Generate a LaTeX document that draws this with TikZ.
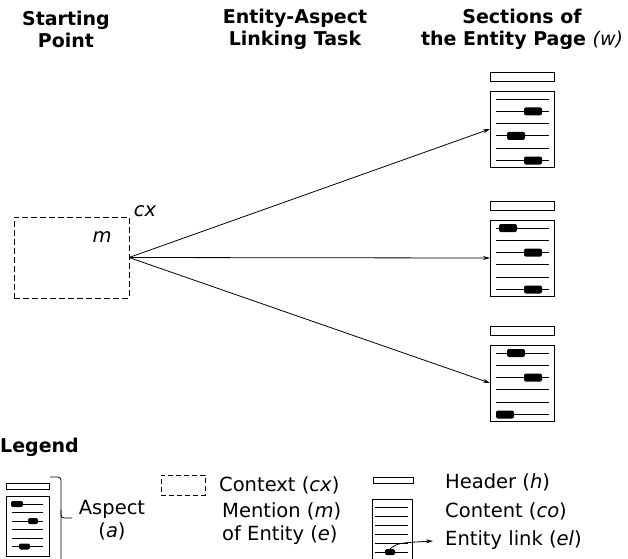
\documentclass[tikz,border=0pt]{standalone}
\usepackage{fontspec}
\setmainfont{DejaVu Sans}
\usetikzlibrary{arrows.meta}
\tikzset{
  hdr/.style={draw, line width=1pt, minimum width=64pt, minimum height=9.5pt, inner sep=0pt, outer sep=0pt},
  cnt/.style={draw, line width=1pt, minimum width=64pt, minimum height=76pt, inner sep=0pt, outer sep=0pt},
  txtline/.style={line width=0.9pt},
  blob/.style={fill=black, rounded corners=2pt},
  ctxbox/.style={draw, dash pattern=on 6pt off 3pt, line width=0.9pt, inner sep=0pt, outer sep=0pt},
  link/.style={-{Stealth[length=7pt,width=4pt]}, line width=0.8pt},
  title/.style={font=\fontsize{19}{22}\selectfont\bfseries, align=center, inner sep=0pt},
  legtxt/.style={font=\fontsize{19.5}{23}\selectfont, inner sep=0pt},
  vartxt/.style={font=\fontsize{19.5}{23}\selectfont\itshape, inner sep=0pt},
}
\begin{document}
\begin{tikzpicture}[x=1pt,y=-1pt]
\useasboundingbox (0,0) rectangle (628,558);
% titles
\node[title] (t1) at (66,29) {Starting\\Point};
\node[title] (t2) at (295,29) {Entity-Aspect\\Linking Task};
\node[title] (t3) at (522,29) {Sections of\\the Entity Page \textmd{\textit{(w)}}};
% context
\node[ctxbox, minimum width=115pt, minimum height=81pt] (ctx) at (71.5,257.5) {};
\node[vartxt] (cxl) at (145,211) {cx};
\node[vartxt] (ml) at (102,237) {m};
% sections
\foreach \n/\T in {1/72, 2/201, 3/326}{
  \node[hdr] (h\n) at (522,\T+4.75) {};
  \node[cnt] (c\n) at (522,\T+57) {};
  \foreach \i in {0,...,5}{
    \draw[txtline] (496,\T+27+12.3*\i) -- (549,\T+27+12.3*\i);
  }
}
% blobs
\foreach \T/\i/\a/\b in {72/1/524/542, 72/3/507/525, 72/5/524/542,
                         201/0/499/517, 201/2/524/542, 201/5/524/542,
                         326/0/507/525, 326/2/524/542, 326/5/496/514}{
  \fill[blob] (\a,\T+27+12.3*\i-4) rectangle (\b,\T+27+12.3*\i+4);
}
% arrows
\draw[link] (ctx.east) -- (c1.west);
\draw[link] (ctx.east) -- (c2.west);
\draw[link] (ctx.east) -- (c3.west);
% legend
\node[anchor=west, inner sep=0pt, font=\fontsize{19}{22}\selectfont\bfseries] (leg) at (0,447) {Legend};
% aspect icon
\node[draw, line width=0.9pt, minimum width=43pt, minimum height=6pt, inner sep=0pt] (lh) at (27.5,486) {};
\node[draw, line width=0.9pt, minimum width=43pt, minimum height=60pt, inner sep=0pt] (lc) at (27.5,526) {};
\foreach \y in {504,512.5,521,529.5,538,546.5}{
  \draw[line width=0.8pt] (12,\y) -- (43,\y);
}
\fill[blob] (11,501) rectangle (23,507);
\fill[blob] (28,518) rectangle (38,524);
\fill[blob] (19,543.5) rectangle (30,549.5);
\draw[line width=0.8pt, rounded corners=3pt] (50,477) -- (61,477) -- (61,560);
\draw[line width=0.8pt, rounded corners=3pt] (61,510) -- (61,518) -- (72,518);
\node[legtxt, align=center] (asp) at (112,520.5) {Aspect\\(\textit{a})};
% context legend
\node[ctxbox, line width=0.8pt, dash pattern=on 5pt off 3pt, minimum width=44pt, minimum height=20pt] (lctx) at (183,485) {};
\node[legtxt, anchor=west] (ctxt) at (219,485) {Context (\textit{cx})};
\node[legtxt, anchor=west, align=left] (ment) at (222,523.5) {Mention (\textit{m})\\of Entity (\textit{e})};
% header/content legend
\node[draw, line width=0.9pt, minimum width=40pt, minimum height=6pt, inner sep=0pt] (lh2) at (393,480) {};
\node[draw, line width=0.9pt, minimum width=40pt, minimum height=62pt, inner sep=0pt] (lc2) at (392,530) {};
\foreach \y in {507,516,525,534,543,552}{
  \draw[line width=0.8pt] (375,\y) -- (408,\y);
}
\node[fill=black, rounded corners=1.5pt, minimum width=10pt, minimum height=6pt, inner sep=0pt] (elb) at (390,552) {};
\coordinate (elt) at (433,541);
\draw[link] (elb.north) .. controls (398,543) .. (elt);
\node[legtxt, anchor=west] (hdt) at (445,482) {Header (\textit{h})};
\node[legtxt, anchor=west] (cot) at (445,511) {Content (\textit{co})};
\node[legtxt, anchor=west] (elt2) at (445,540) {Entity link (\textit{el})};
\end{tikzpicture}
\end{document}
